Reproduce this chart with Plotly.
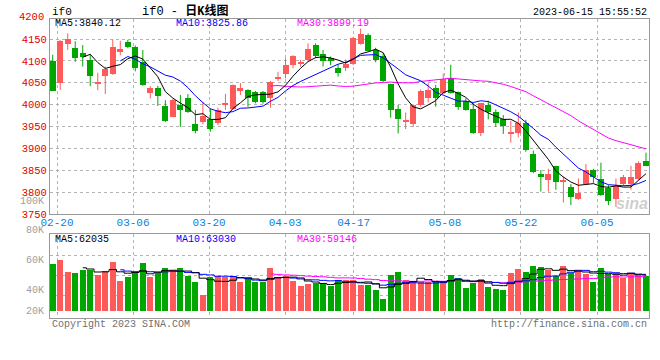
import plotly.graph_objects as go
import pandas as pd

# ---------------- data ----------------
tick_labels = ["02-20", "03-06", "03-20", "04-03", "04-17", "05-08", "05-22", "06-05"]
tick_index = [0, 10, 20, 30, 39, 51, 61, 71]

opens = [4100, 4049, 4138, 4130, 4117, 4102, 4048, 4065, 4070, 4120,
         4143, 4132, 4098, 4027, 4039, 3997, 3972, 3999, 4016, 3955,
         3961, 3967, 3957, 3999, 3991, 4031, 4033, 4028, 4029, 4014,
         4060, 4071, 4091, 4093, 4102, 4136, 4115, 4106, 4083, 4083,
         4093, 4139, 4159, 4125, 4112, 4048, 3991, 3961, 3956, 3998,
         4016, 4037, 4026, 4060, 4028, 4009, 3990, 3936, 3999, 3982,
         3967, 3932, 3936, 3957, 3887, 3841, 3828, 3860, 3823, 3811,
         3784, 3818, 3850, 3829, 3809, 3784, 3818, 3818, 3829, 3871]
highs = [4114, 4148, 4163, 4145, 4136, 4115, 4073, 4087, 4149, 4146,
         4148, 4135, 4125, 4042, 4043, 4010, 4013, 4022, 4024, 3988,
         4006, 3991, 3993, 4024, 4046, 4049, 4035, 4031, 4031, 4054,
         4075, 4106, 4113, 4102, 4140, 4140, 4125, 4110, 4092, 4103,
         4155, 4174, 4163, 4130, 4117, 4048, 3999, 3982, 4000, 4035,
         4049, 4045, 4071, 4091, 4030, 4014, 4004, 4004, 4009, 3989,
         3976, 3963, 3982, 3965, 3895, 3850, 3853, 3860, 3835, 3818,
         3831, 3864, 3853, 3867, 3816, 3831, 3839, 3860, 3870, 3890]
lows = [4031, 4033, 4125, 4098, 4087, 4042, 4033, 4024, 4068, 4113,
        4129, 4076, 4043, 4014, 3997, 3960, 3971, 3949, 3981, 3934,
        3955, 3938, 3953, 3988, 3988, 4022, 3995, 4003, 4002, 3993,
        4054, 4060, 4083, 4087, 4099, 4106, 4087, 4090, 4064, 4077,
        4090, 4137, 4122, 4097, 4052, 3970, 3934, 3944, 3949, 3995,
        4005, 3995, 4024, 4025, 3988, 3986, 3933, 3928, 3966, 3949,
        3933, 3913, 3925, 3892, 3843, 3801, 3801, 3805, 3776, 3770,
        3782, 3816, 3820, 3791, 3770, 3766, 3814, 3805, 3828, 3860]
closes = [4032, 4146, 4149, 4107, 4108, 4065, 4052, 4081, 4132, 4127,
          4132, 4084, 4045, 4037, 4020, 3962, 4010, 3988, 3984, 3940,
          3974, 3944, 3988, 4004, 4045, 4039, 4016, 4007, 4007, 4051,
          4064, 4091, 4112, 4097, 4127, 4110, 4100, 4099, 4073, 4093,
          4153, 4161, 4123, 4103, 4054, 3988, 3967, 3965, 3999, 4032,
          4033, 4016, 4058, 4026, 3995, 3988, 3936, 4003, 3982, 3957,
          3952, 3938, 3957, 3895, 3846, 3834, 3841, 3824, 3826, 3789,
          3797, 3850, 3834, 3793, 3780, 3814, 3835, 3835, 3866, 3860]
volumes = [82600, 89600, 68500, 66800, 72000, 72000, 63300, 70300, 86100, 52700,
           59700, 70300, 84300, 59700, 66200, 75600, 72000, 75600, 61500, 51000,
           28100, 59700, 61500, 59700, 61500, 51000, 58000, 51000, 51000, 74300,
           58000, 61500, 52700, 43900, 47400, 49200, 49200, 42700, 54500, 54500,
           54500, 45700, 45700, 36900, 21100, 62000, 68500, 54500, 52700, 50400,
           50400, 50400, 52700, 63300, 58000, 40400, 48600, 56200, 42200, 38700,
           36900, 66800, 73800, 68500, 79100, 77300, 72000, 60300, 79100, 66200,
           72000, 65000, 51000, 75600, 64500, 66800, 57500, 66800, 63300, 61500]

price_ma_text = ["MA5:3840.12", "MA10:3825.86", "MA30:3899.19"]
vol_ma_text = ["MA5:62035", "MA10:63030", "MA30:59146"]
price_ticks = [3750, 3800, 3850, 3900, 3950, 4000, 4050, 4100, 4150]
vol_labels = ["100K", "80K", "60K", "40K", "20K"]

# ---------------- styling / geometry ----------------
W, H = 660, 360
ML, MR, MT, MB = 50, 11, 19, 42
PW, PH = W - ML - MR, H - MT - MB
RED, GREEN = "#ff5a5a", "#00a600"
C5, C10, C30 = "#000000", "#0000ff", "#ff00ff"
MONO = "Liberation Mono, DejaVu Sans Mono, monospace"


def pxx(p):
    return (p - ML) / PW


def pxy(p):
    return (H - MB - p) / PH


n = len(closes)
idx = list(range(n))
up = [c >= o for o, c in zip(opens, closes)]
colors = [RED if u else GREEN for u in up]

cs = pd.Series(closes, dtype=float)
vs = pd.Series(volumes, dtype=float)
ma = {k: cs.rolling(k).mean() for k in (5, 10, 30)}
vma = {k: vs.rolling(k).mean() for k in (5, 10, 30)}

fig = go.Figure()

# wicks
for flag, col in ((True, RED), (False, GREEN)):
    xs, ys = [], []
    for i in idx:
        if up[i] == flag:
            xs += [i, i, None]
            ys += [lows[i], highs[i], None]
    fig.add_trace(go.Scatter(x=xs, y=ys, mode="lines", line=dict(color=col, width=1),
                             xaxis="x", yaxis="y", hoverinfo="skip", showlegend=False))
# bodies
for flag, col in ((True, RED), (False, GREEN)):
    sel = [i for i in idx if up[i] == flag]
    fig.add_trace(go.Bar(x=sel,
                         y=[max(abs(closes[i] - opens[i]), 2.5) for i in sel],
                         base=[min(opens[i], closes[i]) for i in sel],
                         width=0.8, marker=dict(color=col, line=dict(width=0)),
                         xaxis="x", yaxis="y", showlegend=False))
# price MAs
for k, col in ((30, C30), (10, C10), (5, C5)):
    fig.add_trace(go.Scatter(x=idx, y=ma[k], mode="lines", line=dict(color=col, width=1),
                             xaxis="x", yaxis="y", showlegend=False))

# volume bars
fig.add_trace(go.Bar(x=idx, y=volumes, width=0.8,
                     marker=dict(color=colors, line=dict(width=0)),
                     xaxis="x2", yaxis="y2", showlegend=False))
for k, col in ((30, C30), (10, C10), (5, C5)):
    fig.add_trace(go.Scatter(x=idx, y=vma[k], mode="lines", line=dict(color=col, width=1, shape="hvh"),
                             xaxis="x2", yaxis="y2", showlegend=False))

# geometry of axes
cand_px = 7.51
grid_px = 7.606
x_first = 52.7
xr = [-(x_first - ML) / cand_px, (n - 1) + (ML + PW - (x_first + (n - 1) * cand_px)) / cand_px]
tick_pos = [k * grid_px / cand_px + (57 - x_first) / cand_px for k in tick_index]

y_top_px, y_bot_px = 19, 214
ppu = (192 - 39) / 350.0
yr = [3800 - (y_bot_px - 192) / ppu, 3800 + (192 - y_top_px) / ppu]

vol_top_px, vol_base_px = 234.3, 311
vol_per_px = 1757
vr = [-(H - MB - vol_base_px) * vol_per_px, (vol_base_px - vol_top_px) * vol_per_px]
vgrid = [(vol_base_px - p) * vol_per_px for p in (255.7, 275.7, 295.7)]

axis_common = dict(showline=True, linecolor="#999999", linewidth=1, mirror=True,
                   gridcolor="#b4b4b4", griddash="dot", gridwidth=1, zeroline=False,
                   ticks="", fixedrange=True)

fig.update_layout(
    width=W, height=H, margin=dict(l=ML, r=MR, t=MT, b=MB),
    paper_bgcolor="white", plot_bgcolor="white", barmode="overlay",
    bargap=0, showlegend=False, hovermode=False,
    font=dict(family=MONO, size=10, color="#000"),
    xaxis=dict(domain=[0, 1], range=xr, anchor="y", tickvals=tick_pos, ticktext=tick_labels,
               tickfont=dict(color="#1080d8", size=11, family=MONO), showgrid=True,
               ticklabelstandoff=-2, **axis_common),
    yaxis=dict(domain=[pxy(y_bot_px), 1], range=yr, anchor="x", tickvals=price_ticks,
               tickfont=dict(color="#e00000", size=10.5, family=MONO), showgrid=True, **axis_common),
    xaxis2=dict(domain=[0, 1], range=xr, anchor="y2", tickvals=tick_pos, showticklabels=False,
                showgrid=True, **axis_common),
    yaxis2=dict(domain=[0, pxy(vol_top_px)], range=vr, anchor="x2", tickvals=vgrid,
                showticklabels=False, showgrid=True, **axis_common),
)

ann = []


def text(x, y, s, color="#000", size=10, xanchor="left", family=MONO):
    ann.append(dict(x=pxx(x), y=pxy(y), xref="paper", yref="paper", text=s, showarrow=False,
                    xanchor=xanchor, yanchor="middle", font=dict(color=color, size=size, family=family)))


text(50, 12, "if0", size=11)
text(185, 11, "if0 - <b>日K线图</b>", size=12, xanchor="center", family="Liberation Mono, Noto Sans CJK SC")
text(649, 12, "2023-06-15 15:55:52", size=10, xanchor="right")
for s, x0, col in zip(price_ma_text, (53, 174, 295), (C5, C10, C30)):
    text(x0, 24, s, color=col)
for s, x0, col in zip(vol_ma_text, (53, 174, 295), (C5, C10, C30)):
    text(x0, 239, s, color=col)
text(46, 17, "4200", color="#e00000", size=10.5, xanchor="right")
for s, y0 in zip(vol_labels, (201, 230, 260.7, 290.7, 311)):
    text(46, y0, s, color="#a0a0a0", size=10, xanchor="right")
text(50, 324, "Copyright 2023 SINA.COM", color="#707070")
text(649, 324, "http://finance.sina.com.cn", color="#707070", xanchor="right")
text(632, 203, "<i><b>sina</b></i>", color="rgba(190,190,190,0.75)", size=16, xanchor="center",
     family="Liberation Sans, Arial")
fig.update_layout(annotations=ann)

fig.write_html("out.html", config={"displayModeBar": False},
               post_script="document.body.style.margin='0';document.body.style.padding='0';")
